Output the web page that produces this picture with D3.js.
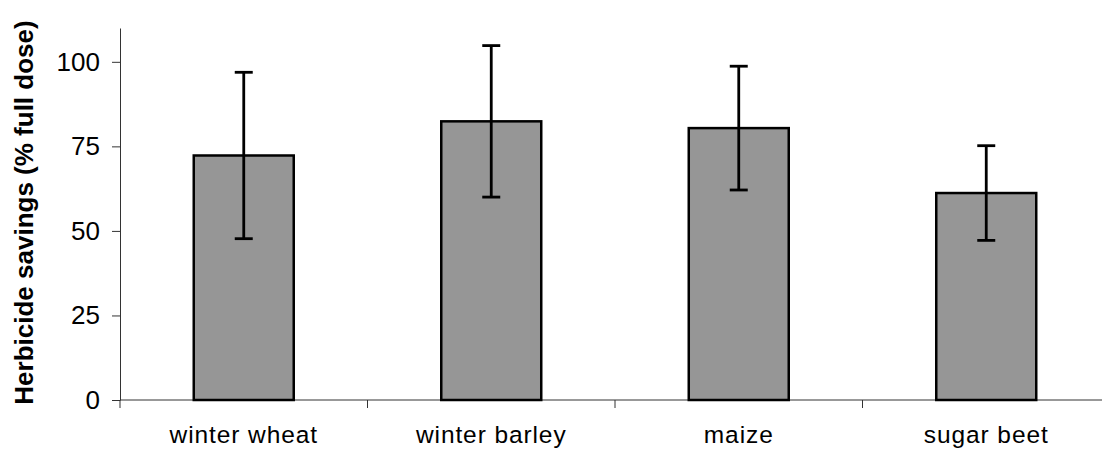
<!DOCTYPE html>
<html>
<head>
<meta charset="utf-8">
<script src="https://cdn.jsdelivr.net/npm/d3@7"></script>
<style>
  body { margin: 0; background: #fff; }
  svg { display: block; font-family: "Liberation Sans", Arial, sans-serif; }
</style>
</head>
<body>
<div id="chart"></div>
<script>
// data
const crops = ["winter wheat", "winter barley", "maize", "sugar beet"];
const savings = [72.3, 82.4, 80.4, 61.2];
const errors = [24.6, 22.4, 18.3, 14.0];
const yTicks = [0, 25, 50, 75, 100];

const width = 1102;
const height = 450;

const svg = d3.select("#chart").append("svg")
    .attr("width", width)
    .attr("height", height);

// scales
const x = d3.scaleBand()
    .domain(crops)
    .range([120, 1110])
    .padding(0);

const y = d3.scaleLinear()
    .domain([0, 110])
    .range([400, 28]);

const barW = x.bandwidth() * 0.404;

// y axis
const yAxis = svg.append("g")
    .attr("transform", "translate(120,0)")
    .call(d3.axisLeft(y).tickValues(yTicks).tickSize(8).tickPadding(12).tickSizeOuter(0));
yAxis.select(".domain").attr("stroke", "#333");
yAxis.selectAll(".tick line").attr("stroke", "#333");
yAxis.selectAll(".tick text")
    .attr("fill", "#000")
    .style("font-size", "26px")
    .style("font-family", "'Liberation Sans', Arial, sans-serif");

// x axis line and boundary ticks
svg.append("line")
    .attr("x1", 120).attr("x2", 1110)
    .attr("y1", y(0)).attr("y2", y(0))
    .attr("stroke", "#333");

const bounds = crops.map(c => x(c)).concat([x.range()[1]]);
svg.append("g").selectAll("line")
    .data(bounds)
    .join("line")
    .attr("x1", d => d).attr("x2", d => d)
    .attr("y1", y(0)).attr("y2", y(0) + 8)
    .attr("stroke", "#333");

// category labels
svg.append("g").selectAll("text")
    .data(crops)
    .join("text")
    .attr("x", d => x(d) + x.bandwidth() / 2)
    .attr("y", 443)
    .attr("text-anchor", "middle")
    .attr("fill", "#000")
    .style("font-size", "24.5px")
    .style("letter-spacing", "0.9px")
    .text(d => d);

// bars
svg.append("g").selectAll("rect")
    .data(crops)
    .join("rect")
    .attr("x", d => x(d) + x.bandwidth() / 2 - barW / 2)
    .attr("y", (d, i) => y(savings[i]))
    .attr("width", barW)
    .attr("height", (d, i) => y(0) - y(savings[i]))
    .attr("fill", "#969696")
    .attr("stroke", "#000")
    .attr("stroke-width", 2.5);

// error bars
const err = svg.append("g")
    .attr("stroke", "#000")
    .attr("stroke-width", 2.8);

crops.forEach((c, i) => {
  const cx = x(c) + x.bandwidth() / 2;
  const hi = y(savings[i] + errors[i]);
  const lo = y(savings[i] - errors[i]);
  err.append("line").attr("x1", cx).attr("x2", cx).attr("y1", hi).attr("y2", lo);
  err.append("line").attr("x1", cx - 9).attr("x2", cx + 9).attr("y1", hi).attr("y2", hi);
  err.append("line").attr("x1", cx - 9).attr("x2", cx + 9).attr("y1", lo).attr("y2", lo);
});

// y axis title
svg.append("text")
    .attr("transform", "translate(33,212.5) rotate(-90)")
    .attr("text-anchor", "middle")
    .attr("fill", "#000")
    .style("font-size", "26px")
    .style("font-weight", "bold")
    .text("Herbicide savings (% full dose)");
</script>
</body>
</html>
